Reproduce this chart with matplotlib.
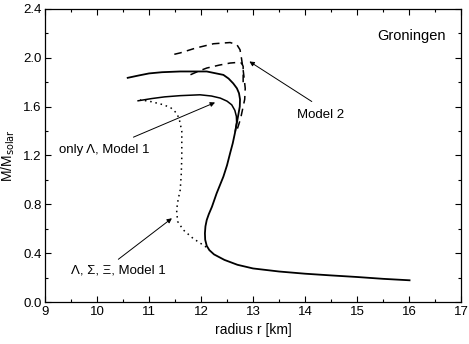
import matplotlib
matplotlib.use("Agg")
import matplotlib.pyplot as plt
from matplotlib.ticker import MultipleLocator

plt.rcParams['font.family'] = ['Liberation Sans', 'DejaVu Sans']

# Main solid curve (common low-mass part + upper branch)
main_r = [16.01, 15.5, 15.0, 14.5, 14.0, 13.5, 13.0, 12.70, 12.45, 12.25, 12.16, 12.11, 12.08,
          12.075, 12.085, 12.11, 12.15, 12.21, 12.30, 12.43, 12.50, 12.56, 12.61, 12.65, 12.69,
          12.72, 12.745, 12.75, 12.73, 12.69, 12.62, 12.53, 12.43, 12.11, 11.60, 11.25, 11.00,
          10.80, 10.59]
main_m = [0.178, 0.19, 0.205, 0.218, 0.232, 0.25, 0.275, 0.305, 0.345, 0.39, 0.425, 0.46, 0.51,
          0.563, 0.62, 0.672, 0.72, 0.78, 0.89, 1.027, 1.12, 1.22, 1.30, 1.38, 1.47,
          1.54, 1.60, 1.66, 1.71, 1.75, 1.79, 1.83, 1.86, 1.888, 1.888, 1.882, 1.872,
          1.855, 1.836]

# Lower solid branch: only Lambda, Model 1
lam_r = [12.66, 12.685, 12.68, 12.65, 12.59, 12.50, 12.37, 12.20, 11.98, 11.60, 11.30, 11.05, 10.79]
lam_m = [1.40, 1.47, 1.52, 1.57, 1.615, 1.645, 1.67, 1.687, 1.697, 1.69, 1.68, 1.666, 1.648]

# Model 2 dashed curves
m2a_r = [12.70, 12.76, 12.80, 12.84, 12.85, 12.83, 12.81, 12.78, 12.75, 12.69, 12.56, 12.24, 11.90, 11.60, 11.40]
m2a_m = [1.42, 1.50, 1.58, 1.66, 1.75, 1.83, 1.90, 1.99, 2.066, 2.107, 2.125, 2.115, 2.08, 2.04, 2.02]
m2b_r = [12.81, 12.81, 12.78, 12.70, 12.56, 12.35, 12.11, 11.95, 11.79]
m2b_m = [1.80, 1.93, 1.957, 1.962, 1.957, 1.94, 1.916, 1.89, 1.86]

# Dotted: Lambda, Sigma, Xi, Model 1
lsx_r = [12.10, 12.04, 11.85, 11.66, 11.55, 11.53, 11.56, 11.60, 11.62, 11.63, 11.63, 11.58,
         11.53, 11.42, 11.28, 11.05, 10.83]
lsx_m = [0.45, 0.467, 0.52, 0.59, 0.66, 0.754, 0.84, 0.918, 1.05, 1.19, 1.40, 1.50,
         1.547, 1.59, 1.615, 1.64, 1.656]

fig = plt.figure(figsize=(4.69, 3.44), dpi=100)
ax = fig.add_axes([0.096, 0.122, 0.887, 0.852])

ax.plot(main_r, main_m, color='black', lw=1.3, solid_joinstyle='round')
ax.plot(lam_r, lam_m, color='black', lw=1.1, solid_joinstyle='round')
ax.plot(m2a_r, m2a_m, color='black', lw=1.1, dashes=(5, 3.5))
ax.plot(m2b_r, m2b_m, color='black', lw=1.1, dashes=(5, 3.5))
ax.plot(lsx_r, lsx_m, color='black', lw=1.1, dashes=(1, 2.5))

ax.set_xlim(9, 17)
ax.set_ylim(0, 2.4)
ax.xaxis.set_major_locator(MultipleLocator(1))
ax.xaxis.set_minor_locator(MultipleLocator(0.5))
ax.yaxis.set_major_locator(MultipleLocator(0.4))
ax.yaxis.set_minor_locator(MultipleLocator(0.2))
ax.yaxis.set_major_formatter(plt.FormatStrFormatter('%.1f'))
ax.tick_params(which='both', direction='in', top=True, right=True, labelsize=9.5, width=0.8)
ax.tick_params(which='major', length=4, pad=2.5)
ax.tick_params(which='minor', length=2.5)
for s in ax.spines.values():
    s.set_linewidth(0.9)

ax.set_xlabel('radius r [km]', fontsize=10)
ax.set_ylabel(r'M/M$_{\mathrm{solar}}$', fontsize=10)

ax.text(15.38, 2.18, 'Groningen', fontsize=10.5, va='center', ha='left')

arrow = dict(arrowstyle='-|>', color='black', lw=0.7, mutation_scale=7, shrinkA=0, shrinkB=0)
ax.annotate('', xy=(12.93, 1.97), xytext=(14.13, 1.642), arrowprops=arrow)
ax.text(14.29, 1.533, 'Model 2', fontsize=9.5, ha='center', va='center')
ax.annotate('', xy=(12.27, 1.634), xytext=(10.70, 1.35), arrowprops=arrow)
ax.text(9.27, 1.246, 'only Λ, Model 1', fontsize=9.5, ha='left', va='center')
ax.annotate('', xy=(11.44, 0.686), xytext=(10.41, 0.35), arrowprops=arrow)
ax.text(9.5, 0.257, 'Λ, Σ, Ξ, Model 1', fontsize=9.5, ha='left', va='center')

fig.savefig('out.png', dpi=100)
